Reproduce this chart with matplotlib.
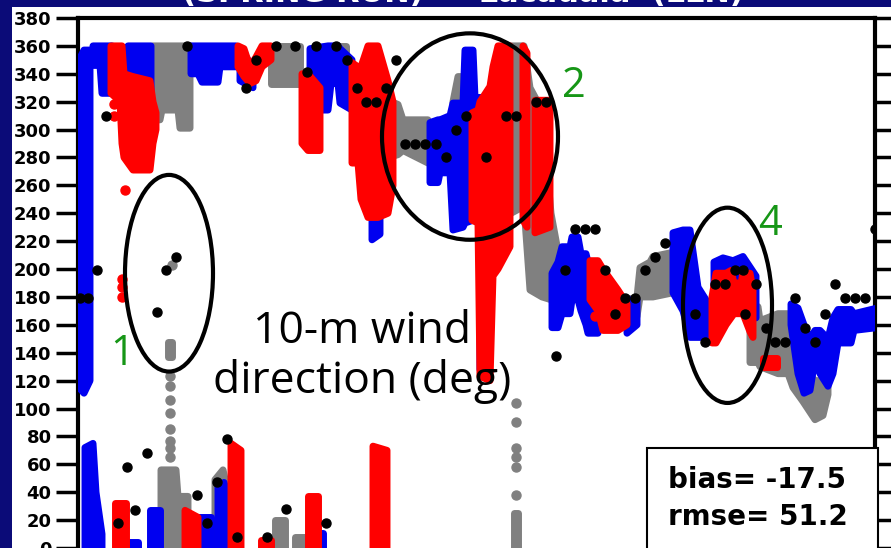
import numpy as np
import matplotlib
matplotlib.use("Agg")
import matplotlib.pyplot as plt
from matplotlib.patches import Ellipse, Rectangle

nan = np.nan

# ensemble spread bands: time (h), lower / upper wind direction (deg); nan splits segments
blue_x = [0.1, 0.6, 1.2, nan, 1.5, 2.2, 2.4, 3.4, nan, 5.0, 7.3, nan,
          11.3, 12.0, 12.4, 14.0, 14.2, 15.8, nan, 16.2, 17.5, nan,
          23.2, 25.0, 25.3, 26.0, 26.2, 27.4, nan, 29.4, 30.2, nan,
          35.2, 36.0, 36.2, 37.2, 37.5, 38.5, 38.7, 39.5, 39.7, 41.2, nan, 40.2, 40.6, nan,
          47.4, 48.0, 48.4, 49.2, 49.4, 50.0, 50.3, 50.8, 51.0, 52.0, nan, 54.9, 55.9, nan,
          59.5, 60.5, 61.2, 62.0, 63.5, nan, 63.6, 64.5, 65.5, 66.5, 67.8, nan,
          71.3, 72.0, 72.6, 73.2, 73.7, 74.2, 75.0, 75.5, 76.0, 77.3, 77.6, 79.9, nan,
          0.7, 1.5, 1.8, 2.4, nan, 5.0, 6.0, nan, 7.2, 8.2, nan, 11.3, 13.3, nan,
          14.0, 14.6, 15.3, nan, 23.5, 24.5]
blue_lo = [115, 111, 120, nan, 346, 346, 326, 326, nan, 320, 323, nan,
           340, 340, 334, 334, 345, 345, nan, 335, 330, nan,
           314, 314, 333, 333, 319, 314, nan, 221, 225, nan,
           262, 262, 269, 269, 228, 230, 233, 235, 240, 245, nan, 128, 130, nan,
           158, 158, 168, 168, 178, 178, 170, 160, 154, 154, nan, 154, 160, nan,
           183, 170, 151, 151, 151, nan, 160, 165, 170, 170, 165, nan,
           160, 125, 111, 113, 135, 125, 116, 125, 147, 147, 156, 158, nan,
           0, 0, 0, 0, nan, 0, 0, nan, 0, 0, nan, 0, 0, nan,
           0, 0, 0, nan, 0, 0]
blue_hi = [350, 357, 357, nan, 360, 360, 360, 360, nan, 360, 360, nan,
           360, 360, 360, 360, 360, 360, nan, 358, 345, nan,
           358, 360, 360, 360, 358, 350, nan, 300, 300, nan,
           305, 307, 307, 310, 319, 319, 357, 357, 323, 323, nan, 176, 176, nan,
           197, 205, 216, 216, 223, 223, 211, 211, 205, 200, nan, 178, 178, nan,
           226, 228, 228, 187, 170, nan, 205, 208, 206, 209, 195, nan,
           175, 172, 160, 150, 156, 156, 150, 165, 171, 171, 168, 172, nan,
           72, 75, 40, 10, nan, 4, 4, nan, 27, 27, nan, 22, 22, nan,
           44, 47, 30, nan, 11, 11]

gray_x = [7.5, 8.2, 8.4, 10.0, 10.2, 11.2, nan, 19.3, 22.2, nan, 25.2, 26.8, nan,
          31.0, 32.0, 32.5, 35.0, nan, 37.5, 38.0, 39.5, nan,
          43.3, 44.6, 45.2, 46.4, 47.3, 48.2, nan,
          54.9, 55.9, 56.2, 57.2, 57.5, 59.5, nan,
          67.2, 68.0, 68.2, 70.0, 71.0, 71.5, 72.5, 73.7, 74.5, 75.0, nan,
          9.0, 9.4, nan, 8.3, 9.8, 10.0, 11.0, nan, 13.7, 14.5, 15.0, nan,
          19.7, 20.7, nan, 21.7, 23.3, nan, 43.6, 44.0]
gray_lo = [307, 307, 314, 314, 301, 301, nan, 333, 333, nan, 340, 340, nan,
           280, 282, 285, 276, nan, 280, 290, 290, nan,
           240, 245, 185, 180, 178, 187, nan,
           166, 166, 180, 180, 180, 183, nan,
           133, 133, 130, 125, 125, 115, 105, 92, 95, 110, nan,
           137, 137, nan, 0, 0, 0, 0, nan, 0, 0, 0, nan,
           0, 0, nan, 0, 0, nan, 0, 0]
gray_hi = [360, 360, 360, 360, 360, 360, nan, 360, 360, nan, 360, 360, nan,
           321, 318, 307, 307, nan, 320, 338, 338, nan,
           360, 360, 330, 314, 240, 205, nan,
           178, 180, 201, 205, 209, 212, nan,
           173, 173, 163, 168, 168, 150, 130, 120, 120, 125, nan,
           148, 148, nan, 56, 56, 37, 37, nan, 49, 56, 40, nan,
           20, 20, nan, 8, 8, nan, 25, 25]

red_x = [3.3, 4.2, 4.4, 4.6, 5.5, 7.2, 7.5, 7.8, nan,
         16.0, 16.6, 17.2, 17.8, 18.4, 19.3, nan, 22.4, 23.0, 24.2, nan,
         27.4, 28.0, 28.3, 29.0, 30.0, 31.0, 31.5, nan,
         39.4, 40.0, 40.2, 41.2, 41.5, 42.0, 43.2, nan, 44.5, 44.9, nan, 45.7, 47.2, nan,
         51.2, 52.0, 52.5, 54.0, 54.9, nan,
         63.4, 63.8, 64.8, 65.3, 65.6, 66.3, 66.5, 67.2, 67.5, nan, 68.5, 69.9, nan,
         3.7, 4.8, nan, 10.7, 12.0, nan, 15.3, 16.3, nan, 18.3, 19.3, nan,
         23.0, 24.0, nan, 29.5, 30.9]
red_lo = [326, 320, 290, 280, 271, 271, 290, 300, nan,
          345, 338, 333, 335, 345, 350, nan, 290, 285, 285, nan,
          276, 276, 250, 237, 237, 240, 260, nan,
          235, 233, 123, 120, 195, 200, 216, nan, 235, 230, nan, 226, 230, nan,
          178, 170, 156, 156, 160, nan,
          147, 147, 160, 165, 168, 168, 168, 155, 151, nan, 130, 130, nan,
          0, 0, nan, 0, 0, nan, 0, 0, nan, 0, 0, nan,
          0, 0, nan, 0, 0]
red_hi = [360, 360, 360, 340, 338, 335, 320, 312, nan,
          360, 358, 345, 352, 360, 360, nan, 340, 340, 330, nan,
          348, 345, 345, 360, 360, 335, 320, nan,
          312, 314, 320, 331, 345, 360, 360, nan, 360, 355, nan, 321, 321, nan,
          206, 206, 200, 185, 175, nan,
          180, 197, 197, 199, 190, 190, 197, 197, 185, nan, 136, 136, nan,
          32, 32, nan, 27, 22, nan, 75, 70, nan, 6, 6, nan,
          37, 37, nan, 73, 70]

# isolated member points
gray_pts_x = [9.2, 9.2, 9.2, 9.2, 9.2, 9.2, 9.2, 9.2, 9.4,
              43.8, 43.8, 43.8, 43.8, 43.8, 43.8]
gray_pts_y = [123, 116, 106, 97, 85, 77, 72, 65, 203,
              38, 58, 65, 72, 90, 104]
red_pts_x = [3.6, 3.6, 4.7, 4.4, 4.4, 4.4, 51.7, 51.7]
red_pts_y = [310, 318, 257, 180, 187, 193, 178, 166]

# observations
obs_x = [0.2, 1.0, 1.9, 2.8, 4.0, 4.9, 5.7, 6.9, 7.9, 8.8, 9.8, 10.9, 11.9, 12.9,
         13.9, 14.9, 15.9, 16.8, 17.8, 18.9, 19.8, 20.8, 21.7, 22.9, 23.8, 24.8,
         25.8, 26.9, 27.9, 28.8, 29.8, 30.8, 31.8, 32.7, 33.7, 34.7, 35.8, 36.8,
         37.8, 38.8, 40.8, 42.8, 43.8, 45.8, 46.8, 47.8, 48.7, 49.7, 50.7, 51.7,
         52.7, 53.7, 54.7, 55.7, 56.7, 57.7, 58.7, 61.7, 62.7, 63.7, 64.7, 65.7,
         66.5, 66.7, 67.8, 68.8, 69.7, 70.7, 71.7, 72.7, 73.7, 74.7, 75.7, 76.7,
         77.7, 78.7, 79.7]
obs_y = [179, 179, 199, 310, 18, 58, 27, 68, 169, 199, 209, 360, 38, 18,
         47, 78, 8, 330, 350, 8, 360, 28, 360, 341, 360, 18,
         360, 350, 330, 320, 320, 330, 350, 290, 290, 290, 290, 280,
         300, 310, 280, 310, 310, 320, 320, 138, 199, 229, 229, 229,
         199, 168, 179, 179, 199, 209, 219, 168, 148, 189, 189, 199,
         199, 168, 189, 158, 148, 148, 179, 158, 148, 168, 189, 179,
         179, 179, 229]

yticks = list(range(0, 381, 20))

navy = "#0b0b78"
fig = plt.figure(figsize=(8.91, 5.48), dpi=100, facecolor=navy)
fig.patches.append(Rectangle((12 / 891, 0), 1, 541 / 548, transform=fig.transFigure,
                             facecolor="white", edgecolor="none", zorder=-5))
fig.text(0.52, 1.012, "(SPRING RUN)  -  Lacadaia  (LLN)", color="white",
         fontsize=22, fontweight="bold", ha="center", va="center", zorder=-4)

ax = fig.add_axes([78 / 891, 0, 797 / 891, 530 / 548])
ax.set_xlim(0, 79.7)
ax.set_ylim(0, 380)

for x, lo, hi, c, z in [(gray_x, gray_lo, gray_hi, "#808080", 2),
                        (blue_x, blue_lo, blue_hi, "#0000f0", 3),
                        (red_x, red_lo, red_hi, "#ff0000", 4)]:
    ax.fill_between(x, lo, hi, facecolor=c, edgecolor=c, linewidth=5,
                    joinstyle="round", zorder=z)

ax.plot(gray_pts_x, gray_pts_y, "o", color="#808080", ms=6.5, zorder=2)
ax.plot(red_pts_x, red_pts_y, "o", color="#ff0000", ms=6.5, zorder=4)
ax.plot(obs_x, obs_y, "o", color="black", ms=6.5, zorder=5)

# highlighted areas
for cx, cy, w, h in [(9.1, 197, 8.8, 141), (39.2, 295, 17.6, 148), (64.95, 174, 8.9, 140)]:
    ax.add_patch(Ellipse((cx, cy), w, h, fill=False, edgecolor="black", lw=3, zorder=6))

green = "#169616"
ax.text(4.4, 139, "1", color=green, fontsize=30, family="Open Sans", ha="center", va="center", zorder=7)
ax.text(49.6, 331, "2", color=green, fontsize=30, family="Open Sans", ha="center", va="center", zorder=7)
ax.text(69.2, 232, "4", color=green, fontsize=30, family="Open Sans", ha="center", va="center", zorder=7)
ax.text(28.4, 137, "10-m wind\ndirection (deg)", fontsize=32, family="Open Sans",
        ha="center", va="center", multialignment="center", linespacing=1.15, zorder=7)

ax.add_patch(Rectangle((0.714, -0.01), 0.29, 0.199, transform=ax.transAxes,
                       facecolor="white", edgecolor="black", lw=1.5, zorder=8, clip_on=False))
ax.text(0.740, 0.128, "bias= -17.5", transform=ax.transAxes, fontsize=20,
        fontweight="bold", va="center", zorder=9)
ax.text(0.740, 0.058, "rmse= 51.2", transform=ax.transAxes, fontsize=20,
        fontweight="bold", va="center", zorder=9)

ax.set_xticks([])
ax.set_yticks(yticks)
ax.tick_params(axis="y", which="both", direction="out", length=16, width=2.5,
               labelsize=13, right=True, labelright=False, pad=3)
for lab in ax.get_yticklabels():
    lab.set_fontweight("bold")
for side in ["left", "top", "right"]:
    ax.spines[side].set_linewidth(3)
ax.spines["bottom"].set_visible(False)

fig.savefig("out.png", dpi=100, facecolor=navy)
